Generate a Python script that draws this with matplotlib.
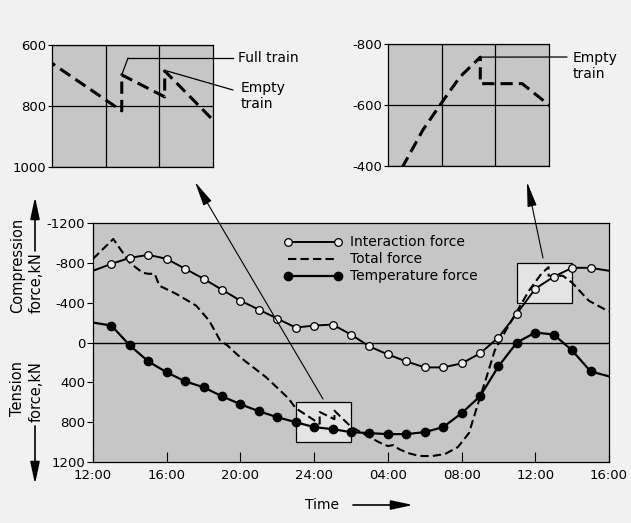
import matplotlib

matplotlib.use("Agg")
import matplotlib.pyplot as plt
from matplotlib.lines import Line2D
from matplotlib.patches import Rectangle

# hours after 12:00 on day one
HOURS = list(range(0, 29))
INTERACTION = [-720, -790, -850, -880, -840, -740, -640, -530, -420, -330,
               -240, -150, -170, -180, -80, 40, 120, 190, 250, 250,
               210, 110, -50, -290, -540, -660, -750, -750, -720]
TEMPERATURE = [-200, -170, 30, 190, 300, 390, 450, 540, 620, 690,
               750, 800, 850, 870, 900, 910, 920, 920, 900, 850,
               710, 540, 240, 0, -100, -80, 80, 290, 340]

TOTAL_T = [0, 1.1, 2.0, 2.7, 3.0, 3.35, 3.6, 4.5, 5.6, 6.3, 6.9, 7.3, 7.7, 8.0,
           9.4, 10.6, 11.0, 12.3, 12.3, 13.1, 13.1, 14.0, 15.5, 16.0, 16.3,
           16.6, 17.1, 17.7, 18.4, 19.1, 19.8, 20.4, 20.9, 21.3, 21.8, 22.4,
           23.28, 23.65, 23.97, 24.34, 24.72, 24.72, 25.5, 26.0, 26.9, 27.9, 28.0]
TOTAL = [-840, -1040, -800, -700, -690, -690, -570, -490, -370, -220, -20, 30, 100, 150,
         350, 560, 660, 816, 698, 770, 685, 846, 1000, 1040, 1030,
         1070, 1110, 1140, 1140, 1120, 1050, 910, 610, 380, 80, -120,
         -400, -518, -600, -692, -757, -670, -670, -600, -420, -320, -310]

XTICKS = [0, 4, 8, 12, 16, 20, 24, 28]
XTICK_LABELS = ["12:00", "16:00", "20:00", "24:00", "04:00", "08:00", "12:00", "16:00"]
YTICKS = [-1200, -800, -400, 0, 400, 800, 1200]

# zoom windows: (t0, t1, f0, f1)
ZOOM1 = (11, 14, 600, 1000)
ZOOM2 = (23, 26, -800, -400)

W, H = 631, 523
BG = "#c6c6c6"
PAGE = "#f1f1f1"


def rect(l, t, r, b):
    return [l / W, 1 - b / H, (r - l) / W, (b - t) / H]


def fpx(x, y):
    return (x / W, 1 - y / H)


plt.rcParams.update({"font.family": "DejaVu Sans", "font.size": 9.5})

fig = plt.figure(figsize=(W / 100, H / 100), dpi=100, facecolor=PAGE)
ax = fig.add_axes(rect(93, 223, 609, 462))
ax1 = fig.add_axes(rect(52, 45, 213, 167))
ax2 = fig.add_axes(rect(388, 44, 549, 166))

# main panel
ax.set_facecolor(BG)
ax.axhline(0, color="black", lw=1.0, zorder=2)
for t0, t1, f0, f1 in (ZOOM1, ZOOM2):
    ax.add_patch(Rectangle((t0, f0), t1 - t0, f1 - f0, facecolor="#e4e4e4",
                           edgecolor="black", lw=0.9, zorder=1.5))

ax.plot(TOTAL_T, TOTAL, color="black", lw=1.5, dashes=(4, 2), zorder=3)
ax.plot(HOURS, INTERACTION, color="black", lw=1.4, marker="o", ms=5.5,
        mfc="#ececec", mec="black", mew=0.9, markevery=slice(1, -1), zorder=4)
ax.plot(HOURS, TEMPERATURE, color="black", lw=1.6, marker="o", ms=6,
        mfc="black", mec="black", markevery=slice(1, -1), zorder=4)

ax.set_xlim(0, 28)
ax.set_ylim(1200, -1200)
ax.set_xticks(XTICKS)
ax.set_xticklabels(XTICK_LABELS)
ax.set_yticks(YTICKS)
ax.set_yticklabels([str(v) for v in YTICKS])
ax.tick_params(axis="y", direction="out", length=4, pad=1.5, labelsize=9.5)
ax.tick_params(axis="x", direction="in", length=7, pad=5, labelsize=9.5)
for s in ax.spines.values():
    s.set_linewidth(0.9)

# legend drawn by hand
rows = [0.921, 0.849, 0.778]
x0, x1, xt = 0.378, 0.475, 0.498
ax.plot([x0, x1], [rows[0]] * 2, transform=ax.transAxes, color="black", lw=1.4,
        marker="o", ms=5.5, mfc="#ececec", mec="black", mew=0.9, zorder=5)
ax.plot([x0, x1], [rows[1]] * 2, transform=ax.transAxes, color="black", lw=1.5,
        dashes=(4, 2), zorder=5)
ax.plot([x0, x1], [rows[2]] * 2, transform=ax.transAxes, color="black", lw=1.6,
        marker="o", ms=6, mfc="black", mec="black", zorder=5)
for y, label in zip(rows, ["Interaction force", "Total force", "Temperature force"]):
    ax.text(xt, y, label, transform=ax.transAxes, va="center", ha="left", fontsize=10)

# insets
for axi, (t0, t1, f0, f1), yt in ((ax1, ZOOM1, [600, 800, 1000]),
                                   (ax2, ZOOM2, [-800, -600, -400])):
    axi.set_facecolor(BG)
    axi.plot(TOTAL_T, TOTAL, color="black", lw=2.2, dashes=(4, 2), zorder=3)
    axi.set_xlim(t0, t1)
    axi.set_ylim(f1, f0)
    axi.set_xticks([t0 + 1, t0 + 2])
    axi.set_yticks(yt)
    axi.set_yticklabels([str(v) for v in yt])
    axi.tick_params(axis="x", length=0, labelbottom=False)
    axi.tick_params(axis="y", length=3, pad=1, labelsize=9.5)
    axi.grid(True, color="black", lw=0.9)
    axi.set_axisbelow(True)
    for s in axi.spines.values():
        s.set_linewidth(0.9)

# callouts
ax1.annotate("", xy=(12.3, 698), xycoords="data", xytext=fpx(128, 58),
             textcoords="figure fraction", annotation_clip=False,
             arrowprops=dict(arrowstyle="-", lw=0.9, shrinkA=0, shrinkB=0))
fig.add_artist(Line2D([128 / W, 233 / W], [1 - 58 / H] * 2, color="black", lw=0.9))
fig.text(*fpx(238, 58), "Full train", ha="left", va="center", fontsize=10)
ax1.annotate("", xy=(13.14, 685), xycoords="data", xytext=fpx(233, 90),
             textcoords="figure fraction", annotation_clip=False,
             arrowprops=dict(arrowstyle="-", lw=0.9, shrinkA=0, shrinkB=0))
fig.text(*fpx(241, 96), "Empty\ntrain", ha="left", va="center", fontsize=10,
         linespacing=1.15)
ax2.annotate("", xy=(24.72, -757), xycoords="data", xytext=fpx(567, 57),
             textcoords="figure fraction", annotation_clip=False,
             arrowprops=dict(arrowstyle="-", lw=0.9, shrinkA=0, shrinkB=0))
fig.text(*fpx(573, 66), "Empty\ntrain", ha="left", va="center", fontsize=10,
         linespacing=1.15)

# arrows from the zoom boxes to the insets
long_head = "-|>,head_length=1.6,head_width=0.3"
for tail, tip in (((323, 399), (195, 182)), ((543, 258), (527, 182))):
    ax.annotate("", xy=fpx(*tip), xycoords="figure fraction", xytext=fpx(*tail),
                textcoords="figure fraction", annotation_clip=False, zorder=6,
                arrowprops=dict(arrowstyle=long_head, lw=0.8, color="black",
                                shrinkA=0, shrinkB=0))

# axis labels with arrows
axis_head = "-|>,head_length=1.4,head_width=0.3"
for tail, tip in (((35, 251), (35, 197)), ((35, 426), (35, 484)), ((353, 505), (413, 505))):
    ax.annotate("", xy=fpx(*tip), xycoords="figure fraction", xytext=fpx(*tail),
                textcoords="figure fraction", annotation_clip=False,
                arrowprops=dict(arrowstyle=axis_head, lw=1.2, color="black",
                                shrinkA=0, shrinkB=0))
fig.text(*fpx(27, 313), "Compression\nforce,kN", rotation=90, ha="center",
         va="bottom", multialignment="left", fontsize=10.5, linespacing=1.25)
fig.text(*fpx(27, 361), "Tension\nforce,kN", rotation=90, ha="center",
         va="top", multialignment="right", fontsize=10.5, linespacing=1.25)
fig.text(*fpx(305, 505), "Time", ha="left", va="center", fontsize=10)

fig.savefig("out.png", dpi=100, facecolor=PAGE)
